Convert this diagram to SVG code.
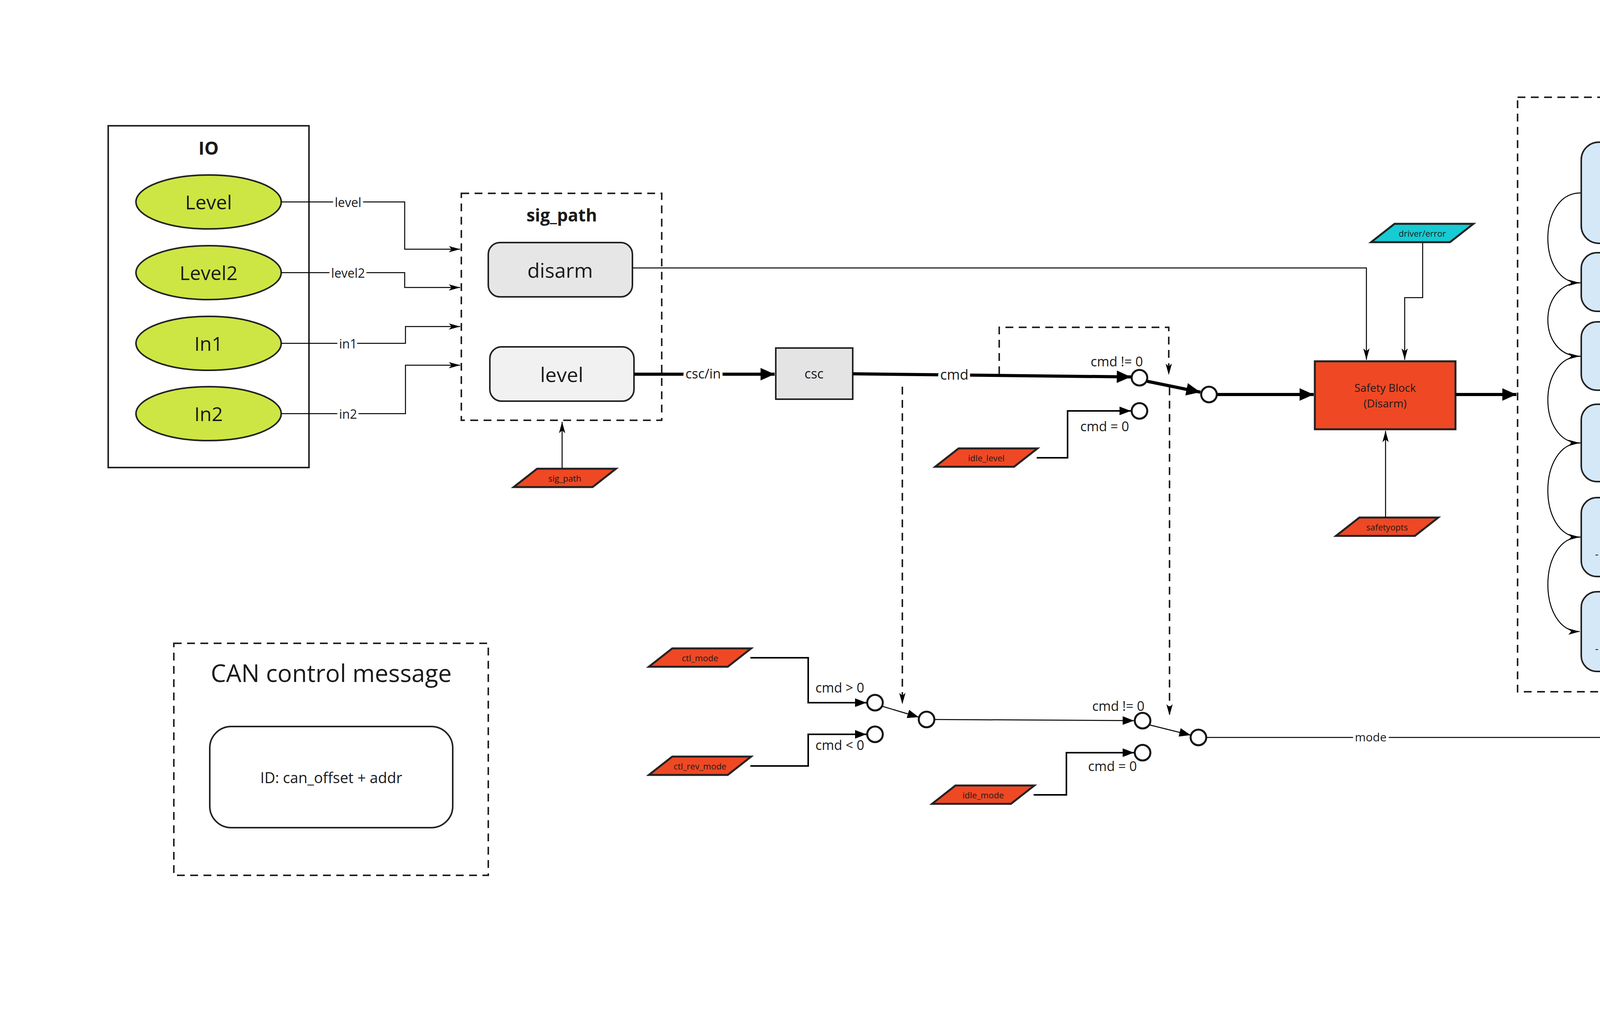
<svg xmlns="http://www.w3.org/2000/svg" xmlns:xlink="http://www.w3.org/1999/xlink" width="6066" height="2637" viewBox="0 0 6066 2637">
<style>
text{font-family:"Open Sans","Liberation Sans",sans-serif;fill:#1a1a1a;text-anchor:middle;dominant-baseline:central}
.b{font-weight:bold}
.dash{fill:none;stroke:#222;stroke-width:4;stroke-dasharray:20 14}
.thin{fill:none;stroke:#000;stroke-width:2.5}
.med{fill:none;stroke:#000;stroke-width:4}
.thick{fill:none;stroke:#000;stroke-width:8}
.sw{fill:#fff;stroke:#111;stroke-width:5}
.red{fill:#EF4824;stroke:#222;stroke-width:5}
.cyan{fill:#16CBD3;stroke:#222;stroke-width:5}
.gray{fill:#808080;stroke:#222;stroke-width:5}
.lbl{paint-order:stroke;stroke:#fff;stroke-width:14px}
.st{fill:#D5E8F8;stroke:#222;stroke-width:4}
.pt{font-size:22px}
</style>
<defs>
<marker id="aT" markerUnits="userSpaceOnUse" markerWidth="40" markerHeight="40" viewBox="0 0 40 40" refX="38" refY="20" orient="auto"><path d="M2,4 L38,20 L2,36 Z" fill="#000"/></marker>
<marker id="aS" markerUnits="userSpaceOnUse" markerWidth="30" markerHeight="20" viewBox="0 0 30 20" refX="29" refY="10" orient="auto"><path d="M0,2 L29,10 L0,18 L7,10 Z" fill="#000"/></marker>
<marker id="aM" markerUnits="userSpaceOnUse" markerWidth="30" markerHeight="26" viewBox="0 0 30 26" refX="29" refY="13" orient="auto"><path d="M0,2 L29,13 L0,24 Z" fill="#000"/></marker>
<polygon id="para" points="60,0 262,0 202,47 0,47"/>
</defs>

<g id="io">
<rect x="277" y="322" width="514" height="875" fill="#fff" stroke="#222" stroke-width="4"/>
<text x="534" y="378" class="b" font-size="46">IO</text>
</g>
<g id="n-level"><ellipse cx="534" cy="517" rx="186" ry="69" fill="#CDE643" stroke="#222" stroke-width="4"/><text x="534" y="517" font-size="50">Level</text></g>
<g id="n-level2"><ellipse cx="534" cy="698" rx="186" ry="69" fill="#CDE643" stroke="#222" stroke-width="4"/><text x="534" y="698" font-size="50">Level2</text></g>
<g id="n-in1"><ellipse cx="534" cy="879" rx="186" ry="69" fill="#CDE643" stroke="#222" stroke-width="4"/><text x="534" y="879" font-size="50">In1</text></g>
<g id="n-in2"><ellipse cx="534" cy="1059" rx="186" ry="69" fill="#CDE643" stroke="#222" stroke-width="4"/><text x="534" y="1059" font-size="50">In2</text></g>

<g id="sig_path">
<rect x="1181" y="495" width="513" height="581" class="dash"/>
<text x="1438" y="550" class="b" font-size="44">sig_path</text>
</g>
<g id="n-disarm"><rect x="1250" y="621" width="369" height="139" rx="30" fill="#E6E6E6" stroke="#222" stroke-width="4"/><text x="1434" y="690" font-size="52">disarm</text></g>
<g id="n-levelblk"><rect x="1254" y="888" width="369" height="139" rx="30" fill="#F1F1F1" stroke="#222" stroke-width="4"/><text x="1438" y="957" font-size="52">level</text></g>
<g id="n-csc"><rect x="1986" y="891" width="197" height="131" fill="#E4E4E4" stroke="#222" stroke-width="4"/><text x="2084" y="956" font-size="34">csc</text></g>

<g id="n-safety"><rect x="3366" y="925" width="360" height="174" fill="#EF4824" stroke="#222" stroke-width="5"/><text x="3546" y="992" font-size="28">Safety Block</text><text x="3546" y="1032" font-size="28">(Disarm)</text></g>

<g id="state-machine">
<rect x="3885" y="249" width="804" height="1522" class="dash"/>
<text x="4286" y="309" class="b" font-size="36">State Machine</text>
</g>
<g id="s-stop"><rect x="4048" y="364" width="477" height="259" rx="45" class="st"/>
<text x="4286" y="392" class="b" font-size="28">0 - STOP</text>
<text x="4286" y="432" font-size="28">- driver error</text>
<text x="4286" y="472" font-size="28">- invalid signal on inputs</text>
<text x="4286" y="508" font-size="22">-------------------------------------------</text>
<text x="4286" y="550" font-size="28">- cmd is set to 0</text>
<text x="4286" y="590" font-size="28">- Safety bloc is astive</text></g>
<g id="s-wait"><rect x="4048" y="647" width="477" height="150" rx="40" class="st"/>
<text x="4286" y="700" class="b" font-size="28">10 - WAIT</text>
<text x="4286" y="740" font-size="28">- delay function is activate</text></g>
<g id="s-idle"><rect x="4048" y="824" width="477" height="175" rx="40" class="st"/>
<text x="4286" y="848" class="b" font-size="28">100 - Idle</text>
<text x="4286" y="888" font-size="28">- cmd = 0</text>
<text x="4286" y="926" font-size="22">----------------------------------------------</text>
<text x="4286" y="967" font-size="28">- Idle mode is active</text></g>
<g id="s-working"><rect x="4048" y="1035" width="477" height="198" rx="40" class="st"/>
<text x="4286" y="1073" class="b" font-size="28">110 - WORKING</text>
<text x="4286" y="1112" font-size="28">- cmd != 0</text>
<text x="4286" y="1151" font-size="22">----------------------------------------------</text>
<text x="4286" y="1190" font-size="28">- cmd control mode is active</text></g>
<g id="s-can"><rect x="4048" y="1274" width="477" height="202" rx="40" class="st"/>
<text x="4286" y="1298" class="b" font-size="28">120 - CAN</text>
<text x="4286" y="1338" font-size="28">- CAN input is activated</text>
<text x="4286" y="1376" font-size="22">-------------------------------------------</text>
<text x="4286" y="1417" font-size="28">- CAN message control mode is</text>
<text x="4286" y="1457" font-size="28">active</text></g>
<g id="s-overriden"><rect x="4048" y="1515" width="477" height="204" rx="40" class="st"/>
<text x="4286" y="1541" class="b" font-size="28">200 - OVERRIDEN</text>
<text x="4286" y="1580" font-size="28">- CAN input is activated</text>
<text x="4286" y="1618" font-size="22">-------------------------------------------</text>
<text x="4286" y="1659" font-size="28">- CAN message control mode is</text>
<text x="4286" y="1699" font-size="28">active</text></g>

<g id="n-driver"><rect x="5378" y="251" width="547" height="1946" fill="#E4E4E4" stroke="#222" stroke-width="5"/><text x="5652" y="1215" class="b" font-size="96">Driver</text></g>

<g id="can-msg">
<rect x="445" y="1647" width="805" height="594" class="dash"/>
<text x="848" y="1722" font-size="62">CAN control message</text>
<rect x="537" y="1860" width="622" height="259" rx="55" fill="#fff" stroke="#222" stroke-width="4"/>
<text x="848" y="1990" font-size="38">ID: can_offset + addr</text>
</g>

<g id="legend">
<rect x="4235" y="2050" width="901" height="442" fill="#fff" stroke="#222" stroke-width="4"/>
<text x="4259" y="2100" class="b" font-size="44" style="text-anchor:start">Legend</text>
<use href="#para" x="4396" y="2187" class="red"/><text x="4527" y="2211" font-size="28">odothr</text>
<text x="4691" y="2212" font-size="32" style="text-anchor:start">Setable parameter</text>
<use href="#para" x="4396" y="2292" class="cyan"/><text x="4527" y="2316" font-size="28">pmap</text>
<text x="4700" y="2317" font-size="32" style="text-anchor:start">State variable</text>
<use href="#para" x="4396" y="2383" class="gray"/><text x="4527" y="2407" font-size="28">ODO</text>
<text x="4700" y="2407" font-size="32" style="text-anchor:start">Permanent</text>
</g>

<g id="params">
<use href="#para" x="1315" y="1200" class="red"/><text x="1446" y="1224" class="pt">sig_path</text>
<use href="#para" x="4158" y="56" class="red"/><text x="4289" y="80" class="pt">delay</text>
<use href="#para" x="3510" y="573" class="cyan"/><text x="3641" y="597" class="pt">driver/error</text>
<use href="#para" x="3420" y="1325" class="red"/><text x="3551" y="1349" class="pt">safetyopts</text>
<use href="#para" x="2394" y="1148" class="red"/><text x="2525" y="1172" class="pt">idle_level</text>
<use href="#para" x="1661" y="1660" class="red"/><text x="1792" y="1684" class="pt">ctl_mode</text>
<use href="#para" x="1661" y="1937" class="red"/><text x="1792" y="1961" class="pt">ctl_rev_mode</text>
<use href="#para" x="2386" y="2011" class="red"/><text x="2517" y="2035" class="pt">idle_mode</text>
</g>

<g id="connectors">
<path class="thin" d="M720,517 H1036 V638 H1178" marker-end="url(#aS)"/>
<path class="thin" d="M720,698 H1036 V736 H1178" marker-end="url(#aS)"/>
<path class="thin" d="M720,879 H1038 V836 H1178" marker-end="url(#aS)"/>
<path class="thin" d="M720,1059 H1038 V935 H1178" marker-end="url(#aS)"/>
<text x="891" y="517" font-size="32" class="lbl">level</text>
<text x="891" y="698" font-size="32" class="lbl">level2</text>
<text x="891" y="879" font-size="32" class="lbl">in1</text>
<text x="891" y="1059" font-size="32" class="lbl">in2</text>
<path class="thin" d="M1439,1198 V1080" marker-end="url(#aS)"/>
<path class="thin" d="M1619,686 H3498 V921" marker-end="url(#aS)"/>
<path class="thin" d="M3642,622 V762 H3596 V921" marker-end="url(#aS)"/>
<path class="thick" d="M1623,958 H1983" marker-end="url(#aT)"/>
<text x="1800" y="956" font-size="34" class="lbl">csc/in</text>
<path class="thick" d="M2183,957 L2895,965" marker-end="url(#aT)"/>
<text x="2443" y="958" font-size="36" class="lbl">cmd</text>
<path class="thick" d="M2936,976 L3073,1004" marker-end="url(#aT)"/>
<path class="thick" d="M3116,1010 H3363" marker-end="url(#aT)"/>
<path class="med" d="M2654,1172 H2733 V1052 H2895" marker-end="url(#aM)"/>
<path class="thin" d="M3547,1325 V1103" marker-end="url(#aS)"/>
<path class="thick" d="M3726,1010 H3882" marker-end="url(#aT)"/>
<path class="thin" d="M4286,107 V246" marker-end="url(#aS)"/>
<path class="thick" d="M4690,1010 H4922 V1173 H5374" marker-end="url(#aT)"/>
<text x="5125" y="1171" font-size="30" class="lbl">cmd</text>
<path class="thin" d="M3088,1888 H4925 V1271 H5374" marker-end="url(#aS)"/>
<text x="5125" y="1269" font-size="30" class="lbl">mode</text>
<text x="3509" y="1886" font-size="30" class="lbl">mode</text>
<path class="dash" d="M2558,958 V838 H2992 V960" marker-end="url(#aS)"/>
<path class="dash" d="M2994,992 V1832" marker-end="url(#aS)"/>
<path class="dash" d="M2310,990 V1803" marker-end="url(#aS)"/>
<path class="med" d="M1921,1684 H2069 V1799 H2218" marker-end="url(#aM)"/>
<path class="med" d="M1921,1961 H2069 V1880 H2218" marker-end="url(#aM)"/>
<path class="thin" d="M2258,1808 L2352,1836" marker-end="url(#aM)"/>
<path class="thin" d="M2392,1842 L2903,1845" marker-end="url(#aM)"/>
<path class="med" d="M2646,2035 H2730 V1927 H2903" marker-end="url(#aM)"/>
<path class="thin" d="M2943,1856 L3048,1882" marker-end="url(#aM)"/>
<text x="2859" y="925" font-size="34">cmd != 0</text>
<text x="2828" y="1091" font-size="34">cmd = 0</text>
<text x="2150" y="1760" font-size="34">cmd &gt; 0</text>
<text x="2150" y="1907" font-size="34">cmd &lt; 0</text>
<text x="2863" y="1807" font-size="34">cmd != 0</text>
<text x="2848" y="1961" font-size="34">cmd = 0</text>
<path class="thin" d="M4046,494 C3935,494 3935,724 4044,724" marker-end="url(#aS)"/>
<path class="thin" d="M4046,724 C3935,724 3935,912 4044,912" marker-end="url(#aS)"/>
<path class="thin" d="M4046,912 C3935,912 3935,1134 4044,1134" marker-end="url(#aS)"/>
<path class="thin" d="M4046,1134 C3935,1134 3935,1375 4044,1375" marker-end="url(#aS)"/>
<path class="thin" d="M4046,1375 C3935,1375 3935,1617 4044,1617" marker-end="url(#aS)"/>
<path class="thin" d="M4527,724 C4638,724 4638,494 4529,494" marker-end="url(#aS)"/>
<path class="thin" d="M4527,912 C4638,912 4638,724 4529,724" marker-end="url(#aS)"/>
<path class="thin" d="M4527,1134 C4638,1134 4638,912 4529,912" marker-end="url(#aS)"/>
<path class="thin" d="M4527,1375 C4638,1375 4638,1134 4529,1134" marker-end="url(#aS)"/>
<path class="thin" d="M4527,1617 C4638,1617 4638,1375 4529,1375" marker-end="url(#aS)"/>
</g>

<g id="switches">
<circle cx="2917" cy="967" r="20" class="sw"/>
<circle cx="2917" cy="1052" r="20" class="sw"/>
<circle cx="3095" cy="1010" r="20" class="sw"/>
<circle cx="2240" cy="1799" r="20" class="sw"/>
<circle cx="2240" cy="1880" r="20" class="sw"/>
<circle cx="2372" cy="1842" r="20" class="sw"/>
<circle cx="2925" cy="1845" r="20" class="sw"/>
<circle cx="2925" cy="1927" r="20" class="sw"/>
<circle cx="3068" cy="1888" r="20" class="sw"/>
</g>
</svg>
